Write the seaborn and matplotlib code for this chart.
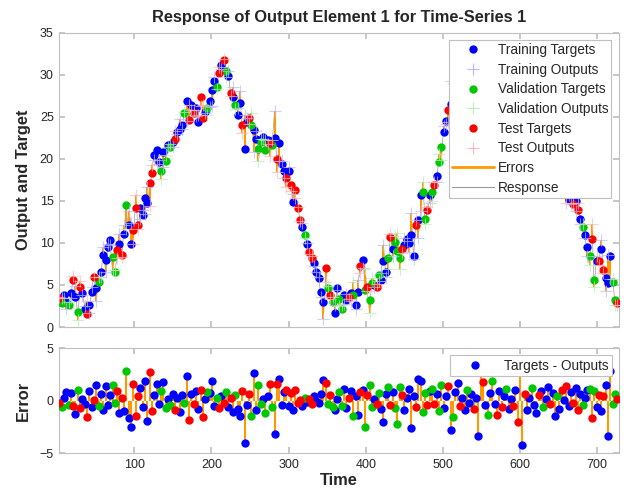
import numpy as np
import pandas as pd
import matplotlib
matplotlib.use('Agg')
import matplotlib.pyplot as plt
from matplotlib.lines import Line2D
import seaborn as sns

# time steps (every third step of the series)
TIME = list(range(3, 727, 3))

TARGET = [
    3.4, 2.8, 3.8, 3.0, 2.6, 4.1, 5.6, 3.6, 1.8, 4.8, 4.0, 2.2, 1.5, 2.6, 4.2, 6.0, 4.6, 5.4, 6.6, 8.6,
    8.0, 9.5, 10.3, 8.3, 6.6, 9.1, 9.9, 8.6, 11.1, 14.5, 12.1, 9.9, 11.5, 14.2, 12.1, 14.1, 13.3, 15.3, 14.7, 17.1,
    18.3, 20.4, 21.0, 19.6, 18.5, 20.8, 19.8, 21.6, 21.4, 22.0, 22.4, 23.2, 23.6, 24.0, 25.4, 26.9, 24.6, 26.4, 25.5, 26.0,
    24.4, 27.3, 24.8, 25.6, 26.0, 26.9, 28.2, 29.2, 28.6, 30.2, 31.1, 31.7, 30.5, 29.9, 27.8, 27.4, 26.4, 25.2, 26.6, 24.0,
    21.2, 24.4, 24.8, 24.0, 23.4, 22.4, 21.2, 22.0, 22.6, 21.0, 22.2, 21.9, 21.6, 22.5, 20.0, 21.9, 19.4, 18.5, 17.7, 18.5,
    16.9, 14.9, 16.3, 14.1, 12.7, 11.9, 10.9, 9.9, 8.9, 8.2, 7.6, 6.6, 5.8, 4.2, 3.0, 7.0, 4.6, 3.8, 3.0, 1.7,
    4.6, 3.3, 2.1, 3.8, 3.2, 3.6, 4.0, 3.8, 2.6, 4.2, 7.2, 8.0, 4.4, 4.8, 3.2, 5.2, 5.0, 4.8, 6.2, 5.6,
    7.8, 6.6, 8.2, 10.7, 9.3, 10.1, 9.0, 8.2, 9.3, 9.7, 10.5, 10.0, 10.9, 8.5, 12.1, 12.7, 15.7, 16.1, 12.9, 13.9,
    15.7, 16.1, 16.9, 17.9, 19.6, 21.4, 23.2, 24.5, 25.8, 26.5, 27.4, 28.0, 27.1, 28.8, 29.5, 28.9, 30.2, 30.8, 29.9, 31.2,
    29.8, 29.4, 30.6, 30.2, 30.9, 31.2, 30.7, 30.1, 31.0, 30.5, 30.8, 30.2, 30.4, 29.7, 29.9, 29.1, 28.9, 28.4, 27.8, 27.2,
    26.9, 26.6, 26.0, 25.4, 24.8, 24.1, 23.5, 22.6, 22.0, 21.3, 20.7, 20.0, 19.4, 18.9, 18.4, 18.0, 17.5, 17.0, 16.6, 16.2,
    15.2, 15.4, 14.6, 15.0, 13.9, 12.9, 11.9, 10.9, 9.5, 8.5, 10.5, 5.6, 7.8, 7.9, 9.3, 6.8, 5.8, 5.2, 8.5, 5.4, 3.2, 2.8,
]

# error = target - output
ERROR = [
    -0.2, -0.6, 0.3, 0.8, -0.4, 0.7, -0.5, -1.3, 1.0, -0.7, 0.2, -0.3, -1.6, 0.9, -0.6, 0.1, 1.5, -0.5, 0.6, -0.9,
    1.4, -0.4, 0.5, 1.5, -0.2, 0.9, -1.2, 0.3, -1.0, 2.8, -1.7, -2.5, 1.6, -1.5, 0.4, 1.2, -0.6, 1.9, -1.9, 2.7,
    -1.0, 0.5, 1.6, -0.3, 0.9, 1.8, -0.7, 0.2, -0.4, 0.6, -0.9, 0.3, -1.1, 0.5, -0.2, 2.4, -1.8, 0.6, -0.3, 0.9,
    -0.8, 1.0, -1.6, 0.2, 0.8, 0.7, 1.9, -0.5, 0.3, -0.7, 0.4, -0.2, 0.8, -0.6, 0.3, -1.1, 0.5, -0.8, -1.5, 0.9,
    -4.0, -0.4, 0.6, -1.5, 2.6, -0.9, 1.5, -0.3, 0.2, -1.2, 0.4, 1.6, -0.6, -3.2, 1.6, 2.1, -0.4, 0.8, 1.0, -0.5,
    0.7, -0.9, 1.0, -0.2, 0.1, -0.5, 0.3, -0.1, 0.2, -0.3, 0.4, 0.0, -0.2, 0.6, 2.0, 1.7, -0.3, 0.5, -0.6, -0.9,
    0.2, 0.8, -0.5, 1.1, -0.7, 0.3, 0.9, -1.5, 0.4, -1.4, 0.8, 1.0, -2.5, 0.5, 1.5, -0.6, 0.2, -0.3, 0.7, -0.8,
    -2.0, 0.6, 1.3, -0.4, 0.8, -0.7, -2.2, 1.3, 0.5, -0.9, 0.3, 1.1, -2.6, 0.4, -0.6, 2.1, 1.9, -1.1, 0.7, -0.4,
    0.9, 1.1, -0.3, 0.6, -1.0, 1.5, -0.7, 0.4, 1.4, -2.8, -1.6, 0.8, 1.7, -0.5, 0.3, -0.9, 1.0, -0.2, 0.6, -0.8,
    0.3, -3.4, 3.1, 1.8, -0.4, -1.4, 0.7, 1.9, -0.3, -1.4, 0.9, -0.6, 0.4, 1.1, -0.8, 0.2, -0.5, 1.0, -2.0, 3.4,
    -4.2, 0.6, -0.9, 0.3, 1.2, -0.4, -1.2, 0.5, 0.9, -0.6, 0.2, 1.3, -0.3, 0.7, -1.5, 0.4, -0.8, 1.0, 0.1, 1.4,
    -0.5, 0.8, -0.2, 1.2, -0.9, 0.6, -0.4, 0.3, 1.0, 1.1, -1.7, 0.9, -0.6, 0.5, -1.0, 0.4, 1.5, -3.4, 2.8, -0.3, 0.6, 0.2,
]

# T = training, V = validation, S = test
SPLIT = ("SVTTVTSTVSTTSTTSTVTT" "TTTVVSTSTVTTSSSTTTTS" "STTTVTVTVTSTTTVTSTST"
         "TSSTVTTTVSTSVTSTVTTS" "TTSVTTVVTVTSVTSTTTST" "STSSSTVTSSTTTTTSVSVT"
         "TVVTTSTVTTSTVSVVTSVT" "TTVSTVVVSTTTTTSTTVVS" "TVSTVVTTSTVTTSTTVTTS"
         "TTTSTVTVTSTSTVTTSTST" "TSTTVTTSTVTTSTTVTSTS" "TTSTSTVTTVSVTSTSTTTVVS")

SPLIT_NAMES = {'T': 'Training', 'V': 'Validation', 'S': 'Test'}
ORDER = ['Training', 'Validation', 'Test']
DOT = {'Training': '#0000ff', 'Validation': '#00c800', 'Test': '#ff0000'}
PLUS = {'Training': '#b8b8ff', 'Validation': '#b8ecb8', 'Test': '#ffb8b8'}
ERR_COLOR = '#ff9900'
FRAME = '#c0c0c0'

sns.set_theme(style='white')
plt.rcParams['font.family'] = ['Liberation Sans', 'DejaVu Sans']

df = pd.DataFrame({'time': TIME, 'target': TARGET, 'error': ERROR,
                   'split': [SPLIT_NAMES[c] for c in SPLIT]})
df['output'] = df['target'] - df['error']

fig = plt.figure(figsize=(6.26, 4.93), dpi=100)
ax1 = fig.add_axes([0.0947, 0.3367, 0.894, 0.597])
ax2 = fig.add_axes([0.0947, 0.0811, 0.894, 0.2124])

# --- response panel
ax1.plot(df['time'], df['output'], color='#9a9a9a', lw=0.5, zorder=1)
ax1.vlines(df['time'], df['output'], df['target'], color=ERR_COLOR, lw=1.5, zorder=2)
for name in ORDER:
    sub = df[df['split'] == name]
    sns.scatterplot(x=sub['time'], y=sub['target'], color=DOT[name], s=36,
                    linewidth=0, ax=ax1, zorder=3)
for name in ORDER:
    sub = df[df['split'] == name]
    ax1.plot(sub['time'], sub['output'], '+', color=PLUS[name], ms=9, mew=0.8,
             alpha=0.7, zorder=4)

# --- error panel
ax2.vlines(df['time'], 0, df['error'], color=ERR_COLOR, lw=1.5, zorder=2)
for name in ORDER:
    sub = df[df['split'] == name]
    sns.scatterplot(x=sub['time'], y=sub['error'], color=DOT[name], s=36,
                    linewidth=0, ax=ax2, zorder=3)

for ax in (ax1, ax2):
    ax.set_xlim(3, 728)
    ax.set_xticks(range(100, 701, 100))
    ax.tick_params(direction='in', length=4, color=FRAME, top=True, right=True,
                   labelsize=9, labelcolor='#262626', pad=4,
                   bottom=True, left=True)
    for sp in ax.spines.values():
        sp.set_color(FRAME)
        sp.set_linewidth(0.8)
    ax.set_xlabel('')

ax1.set_ylim(0, 35)
ax1.set_yticks(range(0, 36, 5))
ax1.set_xticklabels([])
ax1.set_ylabel('Output and Target', fontsize=11.8, fontweight='bold')
ax1.yaxis.set_label_coords(-0.05, 0.5)
ax1.set_title('Response of Output Element 1 for Time-Series 1',
              fontsize=11.8, fontweight='bold', pad=8)

ax2.set_ylim(-5, 5)
ax2.set_yticks([-5, 0, 5])
ax2.set_ylabel('Error', fontsize=11.8, fontweight='bold')
ax2.yaxis.set_label_coords(-0.05, 0.5)
ax2.set_xlabel('Time', fontsize=11.8, fontweight='bold', labelpad=2)

handles = []
labels = []
for name in ORDER:
    handles.append(Line2D([], [], marker='o', ls='none', color=DOT[name], ms=6, mew=0))
    labels.append(f'{name} Targets')
    handles.append(Line2D([], [], marker='+', ls='none', color=PLUS[name], ms=9, mew=0.8))
    labels.append(f'{name} Outputs')
handles.append(Line2D([], [], color=ERR_COLOR, lw=2))
labels.append('Errors')
handles.append(Line2D([], [], color='#9a9a9a', lw=0.8))
labels.append('Response')

leg1 = ax1.legend(handles, labels, loc='upper right', fontsize=9.8, frameon=True,
                  fancybox=False, framealpha=1, edgecolor=FRAME,
                  handlelength=3.1, handletextpad=0.3, labelspacing=0.415,
                  borderaxespad=0.55, borderpad=0.22)
leg1.get_frame().set_linewidth(0.8)
leg1.set_zorder(10)

leg2 = ax2.legend([Line2D([], [], marker='o', ls='none', color=DOT['Training'], ms=6, mew=0)],
                  ['Targets - Outputs'], loc='upper right', fontsize=9.8, frameon=True,
                  fancybox=False, framealpha=1, edgecolor=FRAME,
                  handlelength=3.1, handletextpad=0.6, borderaxespad=0.5, borderpad=0.25)
leg2.get_frame().set_linewidth(0.8)
leg2.set_zorder(10)

fig.savefig('out.png', dpi=100)
